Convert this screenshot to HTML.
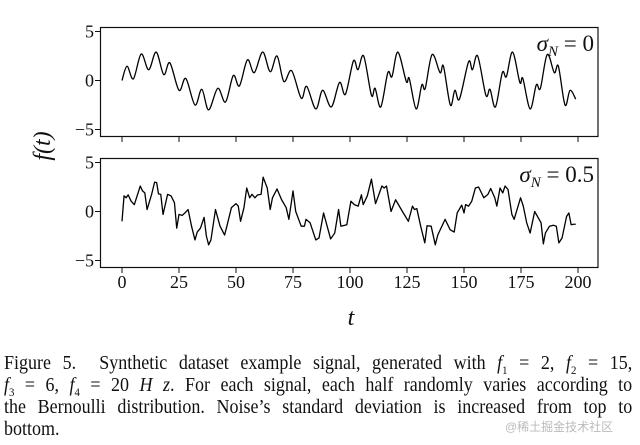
<!DOCTYPE html>
<html><head><meta charset="utf-8">
<style>
body{margin:0;background:#fff;width:640px;height:445px;overflow:hidden;position:relative;font-family:"Liberation Serif",serif;}
svg{position:absolute;left:0;top:0;}
.cap{position:absolute;left:4px;width:698px;font-size:20px;line-height:20px;color:#111;text-align:justify;text-align-last:justify;transform:scaleX(0.9);transform-origin:0 0;white-space:normal;}
.wm{position:absolute;left:505px;top:418px;font-size:12px;color:#bbb;font-family:"Liberation Sans","Noto Sans CJK SC",sans-serif;}
</style></head><body>
<svg width="640" height="340" id="chart">
<g id="g" font-family="Liberation Serif, serif" fill="#111"></g>
</svg>
<div class="cap" style="top:353px">Figure 5.&nbsp; Synthetic dataset example signal, generated with <i>f</i><sub style="font-size:12px">1</sub> = 2, <i>f</i><sub style="font-size:12px">2</sub> = 15,</div>
<div class="cap" style="top:375px"><i>f</i><sub style="font-size:12px">3</sub> = 6, <i>f</i><sub style="font-size:12px">4</sub> = 20 <i>H z</i>. For each signal, each half randomly varies according to</div>
<div class="cap" style="top:397px">the Bernoulli distribution. Noise’s standard deviation is increased from top to</div>
<div class="cap" style="top:419px;text-align-last:left">bottom.</div>
<div class="wm">@稀土掘金技术社区</div>
<script>
const xTicks=[0,25,50,75,100,125,150,175,200];
const yTicks=[5,0,-5];
const tTop=[0,2.2,5,8.4,11.7,15,18.3,21,25,28,32,35,38,42,45.4,48.8,51.5,55,58,61.7,65,68,71,74.4,78.6,81,85,88,91.8,95.4,98,101.5,103.5,106,109.4,111,113.5,116.6,118.4,121,124.7,126,129,131.5,133,136,139.5,141,144,146,148,152,153.7,156,159.6,161.4,163.8,166.8,168.6,171.3,174.5,175.8,179,181.7,183.5,186.5,189.6,191.4,194.3,196.5,199];
const vTop=[0,1.45,0.17,2.7,1.1,2.9,0.6,1.8,-1,0.2,-2.5,-0.9,-3,-0.8,-2.2,0.5,-0.55,2.1,0.8,2.9,0.9,2.5,-0.1,1,-1.8,-0.6,-2.9,-1,-2.7,-0.2,-1.4,2,1.1,2.5,-1.5,-0.8,-2.7,0.8,0.4,2.9,-0.1,0.2,-2.9,-0.45,-0.8,2.65,0.8,1.45,-2.5,-1,-1.9,1.9,1.1,2.5,-1.5,-0.9,-2.7,0.8,0.4,2.9,-0.2,0.2,-2.9,-0.45,-0.8,2.65,0.8,1.45,-2.5,-1,-1.9];
const tBot=[0,0.9,1.8,2.7,4,5.4,8,9,10,11,13,14.3,15.2,16,17,18,20,21.5,23,24,25,26.4,27.8,29,30.5,32,33,34.4,36,37,38,39,41,43,45,46,48,50,51,52,53.5,54.7,56,57,58.3,59.5,61,61.9,63.7,65,66,68,70,72,73.2,75,76.2,78.6,80,80.7,82.5,85,86.4,88.4,91.5,93.3,95,96,98.6,100.4,101.9,103.6,105,105.8,107.6,109.4,111.2,114,115,116,118,120,123,125.6,127.4,128.3,129.3,131,132.8,133.8,135.6,137.4,138.5,141.7,143.9,145.7,147,149,150,150.7,152,153.4,155,156.4,158.7,160.5,161.7,163.5,164.4,165.8,167,168,169.3,171,172,174.8,176,177.5,179,181,183.8,184.8,185.7,187.5,189.2,190.5,191.6,193,195,196,197,198,199];
const vBot=[-1,1.6,1.4,1.7,1.05,0.7,2.6,2.1,1.9,0.2,1.75,3,2.95,1.8,1.75,-0.3,1.75,1.6,0.9,-1.7,-0.3,-0.4,-0.1,0.2,-1.5,-2.9,-2.1,-1.7,-0.6,-2.5,-3.4,-2.9,0.2,-1.5,-2.4,-1.5,0.4,0.8,0.55,-1,0.4,2.4,1.4,1.75,1.4,1.7,1.75,3.5,2.4,0.2,1.4,2.3,1.2,0.4,-0.8,2.1,0,-1.5,-1.5,-0.8,-1.15,-2.9,-2.7,-0.15,-2.8,-2.2,0.2,-1.5,-1.35,1.05,0.7,0.55,1.7,0.7,1.6,3.3,0.8,2.6,2.4,2.6,0,1.2,0,-1,0.55,0.2,0.3,-1.5,-3.2,-1.45,-1.5,-3.4,-2.4,-0.8,-1.85,-2.1,-0.15,0.65,-0.15,0.7,0.55,1.05,2.4,2.5,1.4,1.75,2.35,1.4,0.55,2.4,1.9,2.6,2.25,-0.3,-0.8,1.4,0.55,-1.15,-2.2,0,-1.15,-3.3,-2.2,-1.5,-1.4,-1.5,-3.2,-2.7,-0.5,-0.15,-1.35,-1.3,-1.3];
const NS='http://www.w3.org/2000/svg';
const g=document.getElementById('g');
const xS=t=>122+t*2.28;
function mk(tag,attrs,parent){const e=document.createElementNS(NS,tag);for(const k in attrs)e.setAttribute(k,attrs[k]);(parent||g).appendChild(e);return e;}
function panel(top,ts,vs,smooth,label,name,showX){
  const y0=top+53.5, yS=v=>y0-v*9.8;
  const p=mk('g',{});
  
  
  const box=mk('rect',{x:100.5,y:top+0.5,width:497.5,height:109,fill:'none',stroke:'#111','stroke-width':1.2},p);
  
  
  yTicks.forEach(v=>{
    const tk=mk('line',{x1:95,x2:100,y1:yS(v),y2:yS(v),stroke:'#111'},p);
    
    
    const tx=mk('text',{x:94,y:yS(v)+6,'text-anchor':'end','font-size':18},p);
    tx.textContent=v<0?'\u2212'+(-v):String(v);
    
    
  });
  xTicks.forEach(t=>{
    const tk=mk('line',{x1:xS(t),x2:xS(t),y1:top+110,y2:top+115,stroke:'#111'},p);
    
    
    if(showX){const tx=mk('text',{x:xS(t),y:top+130,'text-anchor':'middle','font-size':18},p);
      tx.textContent=String(t);
      
      }
  });
  let d='';
  const P=ts.map((t,i)=>[xS(t),yS(vs[i])]);
  if(smooth){
    d='M'+P[0][0]+','+P[0][1];
    for(let i=0;i<P.length-1;i++){
      const a=P[Math.max(0,i-1)],b=P[i],c=P[i+1],e=P[Math.min(P.length-1,i+2)];
      const c1=[b[0]+(c[0]-a[0])/6,b[1]+(c[1]-a[1])/6],c2=[c[0]-(e[0]-b[0])/6,c[1]-(e[1]-b[1])/6];
      d+=`C${c1[0]},${c1[1]} ${c2[0]},${c2[1]} ${c[0]},${c[1]}`;
    }
  } else d='M'+P.map(q=>q.join(',')).join('L');
  const ln=mk('path',{d:d,fill:'none',stroke:'#000','stroke-width':1.3,'stroke-linejoin':'round'},p);
  
  
  const lb=mk('text',{x:594,y:top+24,'text-anchor':'end','font-size':23},p);
  lb.innerHTML='<tspan font-style="italic">σ</tspan><tspan font-style="italic" font-size="15" dy="5">N</tspan><tspan dy="-5"> = '+label+'</tspan>';
  
  
}
panel(27,tTop,vTop,true,'0','top-panel',false);
panel(158,tBot,vBot,false,'0.5','bottom-panel',true);
const yl=mk('text',{x:0,y:0,'font-size':24,'font-style':'italic','text-anchor':'middle',transform:'translate(50,146) rotate(-90)'});
yl.textContent='f(t)';


const xl=mk('text',{x:351,y:325,'font-size':24,'font-style':'italic','text-anchor':'middle'});
xl.textContent='t';


</script>
</body></html>
